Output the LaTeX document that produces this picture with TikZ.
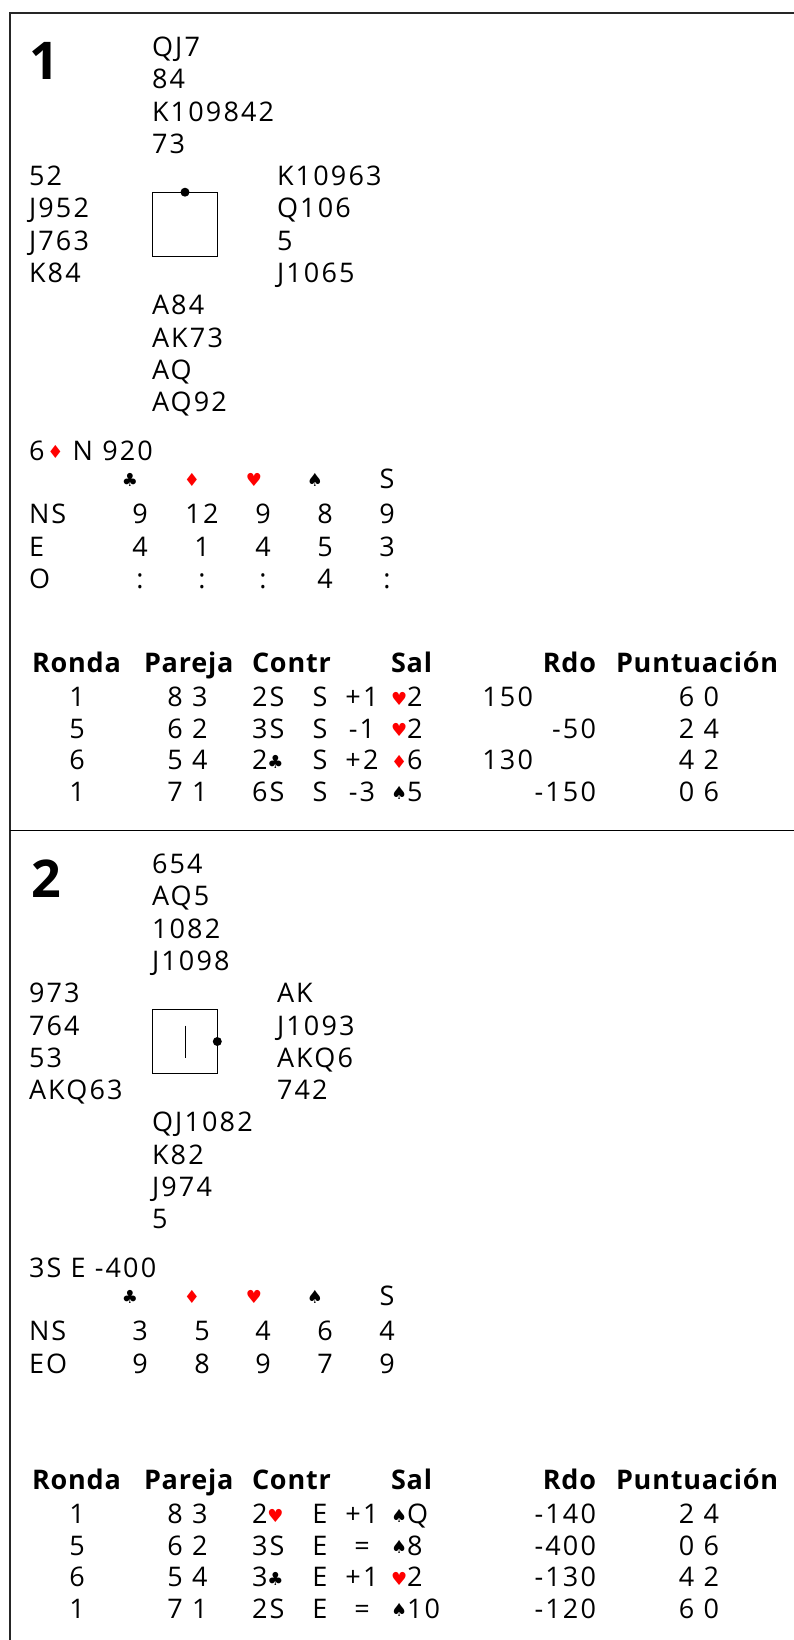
\documentclass[tikz,border=0pt]{standalone}
\usepackage{fontspec}
\setmainfont{Open Sans}[LetterSpace=8]
\newfontfamily\hdrf{Open Sans}[LetterSpace=3]
\newfontfamily\symf{DejaVu Sans}
\definecolor{suitred}{RGB}{255,0,0}
\newcommand\suitsym[1]{{\symf\fontsize{18}{18}\selectfont\raisebox{1.5pt}{#1}}}
\newcommand\suitS{\suitsym{♠}}
\newcommand\suitC{\suitsym{♣}}
\newcommand\suitH{\textcolor{suitred}{\suitsym{♥}}}
\newcommand\suitD{\textcolor{suitred}{\suitsym{♦}}}
\tikzset{
  txt/.style={inner sep=0pt, outer sep=0pt, anchor=base west, font=\fontsize{27}{30}\selectfont},
  txtc/.style={txt, anchor=base},
  txte/.style={txt, anchor=base east},
  hdr/.style={txt, font=\fontsize{27}{30}\hdrf\bfseries},
  hdre/.style={hdr, anchor=base east},
  boardno/.style={txt, font=\fontsize{52}{56}\hdrf\bfseries},
  dealbox/.style={draw, line width=0.9pt, minimum size=64.6pt, inner sep=0pt, outer sep=0pt},
  frameline/.style={line width=1.2pt, draw=black!85},
  sepline/.style={line width=1pt, draw=black},
}
\begin{document}
\begin{tikzpicture}[x=1pt,y=-1pt]
\useasboundingbox (0,0) rectangle (794,1640);
% frame
\coordinate (fbl) at (10,1640);
\coordinate (ftl) at (10,13);
\coordinate (ftr) at (794,13);
\coordinate (sl) at (10,830);
\coordinate (sr) at (794,830);
\draw[frameline] (fbl) -- (ftl) -- (ftr);
\draw[sepline] (sl) -- (sr);

% ================= Board 1 =================
\node[boardno] (bn1) at (29,80) {1};
\foreach \t [count=\i] in {QJ7,84,K109842,73}
  \node[txt] (b1n\i) at (152,24.2+32.3*\i) {\t};
\foreach \t [count=\i] in {52,J952,J763,K84}
  \node[txt] (b1w\i) at (29,153.4+32.3*\i) {\t};
\foreach \t [count=\i] in {K10963,Q106,5,J1065}
  \node[txt] (b1e\i) at (277,153.4+32.3*\i) {\t};
\foreach \t [count=\i] in {A84,AK73,AQ,AQ92}
  \node[txt] (b1s\i) at (152,282.6+32.3*\i) {\t};
\node[dealbox] (box1) at (185,224.5) {};
\fill (box1.north) circle (4.5pt);

\node[txt] (b1con) at (29,460) {6\kern3pt\suitD\ N 920};
\node[txtc] (b1h1) at (130,488) {\suitC};
\node[txtc] (b1h2) at (192,488) {\suitD};
\node[txtc] (b1h3) at (254,488) {\suitH};
\node[txtc] (b1h4) at (315,488) {\suitS};
\node[txtc] (b1h5) at (387,488) {S};
\foreach \lab/\ty/\a/\b/\c/\d/\e [count=\i] in {NS/523/9/12/9/8/9, E/556/4/1/4/5/3, O/588/:/:/:/4/:}{
  \node[txt] (b1l\i) at (29,\ty) {\lab};
  \node[txtc] (b1v\i a) at (140,\ty) {\a};
  \node[txtc] (b1v\i b) at (202,\ty) {\b};
  \node[txtc] (b1v\i c) at (263,\ty) {\c};
  \node[txtc] (b1v\i d) at (325,\ty) {\d};
  \node[txtc] (b1v\i e) at (387,\ty) {\e};
}

\node[hdr] (t1h1) at (32,672) {Ronda};
\node[hdr] (t1h2) at (144,672) {Pareja};
\node[hdr] (t1h3) at (252,672) {Contr};
\node[hdr] (t1h4) at (391,672) {Sal};
\node[hdre] (t1h5) at (596,672) {Rdo};
\node[hdr] (t1h6) at (616,672) {Puntuación};
\foreach \ty/\r/\p/\c/\d/\res/\ls/\lc/\rd/\rx/\sc [count=\i] in {
  706.5/1/8 3/2S/S/+1/\suitH/2/150/533/6 0,
  738/5/6 2/3S/S/-1/\suitH/2/-50/596/2 4,
  769.5/6/5 4/2\suitC/S/+2/\suitD/6/130/533/4 2,
  801/1/7 1/6S/S/-3/\suitS/5/-150/596/0 6}{
  \node[txtc] (t1r\i) at (77,\ty) {\r};
  \node[txtc] (t1p\i) at (187.5,\ty) {\p};
  \node[txt] (t1c\i) at (252,\ty) {\c};
  \node[txtc] (t1d\i) at (320,\ty) {\d};
  \node[txtc] (t1x\i) at (362,\ty) {\res};
  \node[txt] (t1ls\i) at (391,\ty) {\ls};
  \node[txt] (t1lc\i) at (407,\ty) {\lc};
  \node[txte] (t1rd\i) at (\rx,\ty) {\rd};
  \node[txtc] (t1sc\i) at (699,\ty) {\sc};
}

% ================= Board 2 =================
\def\oy{817}
\node[boardno] (bn2) at (31,80+\oy) {2};
\foreach \t [count=\i] in {654,AQ5,1082,J1098}
  \node[txt] (b2n\i) at (152,\oy+24.2+32.3*\i) {\t};
\foreach \t [count=\i] in {973,764,53,AKQ63}
  \node[txt] (b2w\i) at (29,\oy+153.4+32.3*\i) {\t};
\foreach \t [count=\i] in {AK,J1093,AKQ6,742}
  \node[txt] (b2e\i) at (277,\oy+153.4+32.3*\i) {\t};
\foreach \t [count=\i] in {QJ1082,K82,J974,5}
  \node[txt] (b2s\i) at (152,\oy+282.6+32.3*\i) {\t};
\node[dealbox] (box2) at (185,224.5+\oy) {};
\fill (box2.east) circle (4.5pt);
\coordinate (vt) at ([yshift=16pt]box2.center);
\coordinate (vb) at ([yshift=-16pt]box2.center);
\draw[line width=0.9pt] (vt) -- (vb);

\node[txt] (b2con) at (29,460+\oy) {3S E -400};
\node[txtc] (b2h1) at (130,488+\oy) {\suitC};
\node[txtc] (b2h2) at (192,488+\oy) {\suitD};
\node[txtc] (b2h3) at (254,488+\oy) {\suitH};
\node[txtc] (b2h4) at (315,488+\oy) {\suitS};
\node[txtc] (b2h5) at (387,488+\oy) {S};
\foreach \lab/\ty/\a/\b/\c/\d/\e [count=\i] in {NS/523/3/5/4/6/4, EO/556/9/8/9/7/9}{
  \node[txt] (b2l\i) at (29,\ty+\oy) {\lab};
  \node[txtc] (b2v\i a) at (140,\ty+\oy) {\a};
  \node[txtc] (b2v\i b) at (202,\ty+\oy) {\b};
  \node[txtc] (b2v\i c) at (263,\ty+\oy) {\c};
  \node[txtc] (b2v\i d) at (325,\ty+\oy) {\d};
  \node[txtc] (b2v\i e) at (387,\ty+\oy) {\e};
}

\node[hdr] (t2h1) at (32,672+\oy) {Ronda};
\node[hdr] (t2h2) at (144,672+\oy) {Pareja};
\node[hdr] (t2h3) at (252,672+\oy) {Contr};
\node[hdr] (t2h4) at (391,672+\oy) {Sal};
\node[hdre] (t2h5) at (596,672+\oy) {Rdo};
\node[hdr] (t2h6) at (616,672+\oy) {Puntuación};
\foreach \ty/\r/\p/\c/\d/\res/\ls/\lc/\rd/\rx/\sc [count=\i] in {
  706.5/1/8 3/2\suitH/E/+1/\suitS/Q/-140/596/2 4,
  738/5/6 2/3S/E/=/\suitS/8/-400/596/0 6,
  769.5/6/5 4/3\suitC/E/+1/\suitH/2/-130/596/4 2,
  801/1/7 1/2S/E/=/\suitS/10/-120/596/6 0}{
  \node[txtc] (t2r\i) at (77,\ty+\oy) {\r};
  \node[txtc] (t2p\i) at (187.5,\ty+\oy) {\p};
  \node[txt] (t2c\i) at (252,\ty+\oy) {\c};
  \node[txtc] (t2d\i) at (320,\ty+\oy) {\d};
  \node[txtc] (t2x\i) at (362,\ty+\oy) {\res};
  \node[txt] (t2ls\i) at (391,\ty+\oy) {\ls};
  \node[txt] (t2lc\i) at (407,\ty+\oy) {\lc};
  \node[txte] (t2rd\i) at (\rx,\ty+\oy) {\rd};
  \node[txtc] (t2sc\i) at (699,\ty+\oy) {\sc};
}
\end{tikzpicture}
\end{document}
